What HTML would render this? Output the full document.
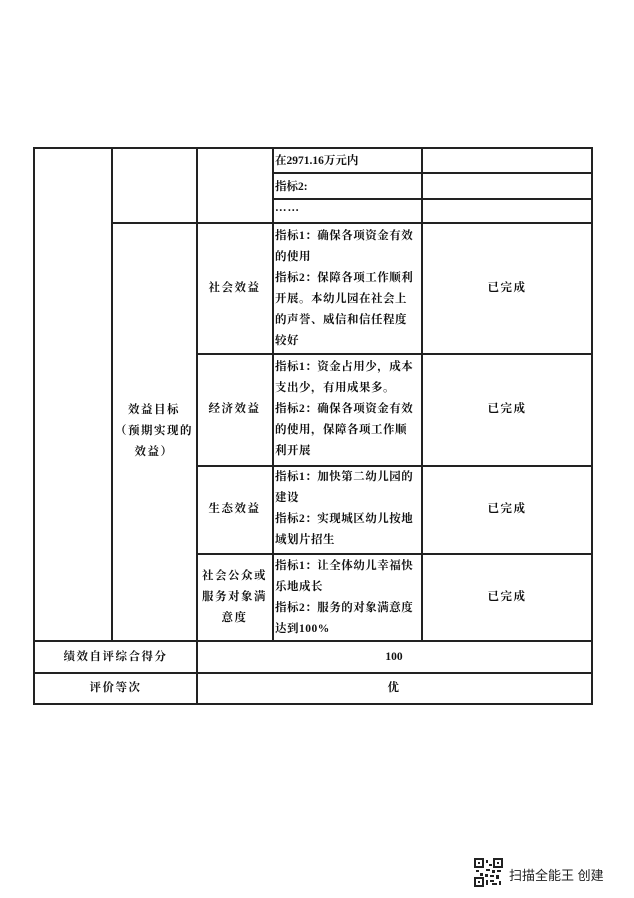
<!DOCTYPE html>
<html><head><meta charset="utf-8"><style>
body{margin:0;width:634px;height:898px;background:#fff;position:relative;overflow:hidden;font-family:"Liberation Serif","Noto Serif CJK SC","Noto Sans CJK SC",serif;color:#111}
.l{position:absolute;background:#222}
.t{position:absolute;font-size:11.5px;font-weight:bold;letter-spacing:1px}
.c{position:absolute;display:flex;align-items:center;justify-content:center;text-align:center;font-size:11.5px;font-weight:bold;line-height:21px;letter-spacing:1.5px}
.p{position:absolute;font-size:11.5px;font-weight:bold;line-height:21px;letter-spacing:0.5px;white-space:nowrap}
</style></head><body>
<div class="l" style="left:33px;top:147px;width:2px;height:557px"></div>
<div class="l" style="left:111px;top:147px;width:1.5px;height:493px"></div>
<div class="l" style="left:196px;top:147px;width:1.5px;height:557px"></div>
<div class="l" style="left:272px;top:147px;width:1.5px;height:493px"></div>
<div class="l" style="left:421px;top:147px;width:1.5px;height:493px"></div>
<div class="l" style="left:591px;top:147px;width:2px;height:557px"></div>
<div class="l" style="left:33px;top:147px;width:560px;height:2px"></div>
<div class="l" style="left:272px;top:172px;width:320px;height:1.5px"></div>
<div class="l" style="left:272px;top:198px;width:320px;height:1.5px"></div>
<div class="l" style="left:111px;top:222px;width:481px;height:1.5px"></div>
<div class="l" style="left:196px;top:353px;width:396px;height:1.5px"></div>
<div class="l" style="left:196px;top:465px;width:396px;height:1.5px"></div>
<div class="l" style="left:196px;top:553px;width:396px;height:1.5px"></div>
<div class="l" style="left:33px;top:640px;width:560px;height:2px"></div>
<div class="l" style="left:33px;top:672px;width:560px;height:1.5px"></div>
<div class="l" style="left:33px;top:703px;width:560px;height:2px"></div>

<div class="t" style="left:275px;top:152px;letter-spacing:0">在2971.16万元内</div>
<div class="t" style="left:275px;top:178px;letter-spacing:0">指标2:</div>
<div class="t" style="left:275px;top:202px">……</div>

<div class="c" style="left:112px;top:223px;width:84px;height:417px">效益目标<br>（预期实现的<br>效益）</div>
<div class="c" style="left:197px;top:223px;width:75px;height:130px">社会效益</div>
<div class="c" style="left:197px;top:354px;width:75px;height:111px">经济效益</div>
<div class="c" style="left:197px;top:466px;width:75px;height:87px">生态效益</div>
<div class="c" style="left:197px;top:554px;width:75px;height:86px">社会公众或<br>服务对象满<br>意度</div>

<div class="p" style="left:275px;top:226px">指标1：确保各项资金有效<br>的使用<br>指标2：保障各项工作顺利<br>开展。本幼儿园在社会上<br>的声誉、威信和信任程度<br>较好</div>
<div class="p" style="left:275px;top:357px">指标1：资金占用少，成本<br>支出少，有用成果多。<br>指标2：确保各项资金有效<br>的使用，保障各项工作顺<br>利开展</div>
<div class="p" style="left:275px;top:467px">指标1：加快第二幼儿园的<br>建设<br>指标2：实现城区幼儿按地<br>域划片招生</div>
<div class="p" style="left:275px;top:556px">指标1：让全体幼儿幸福快<br>乐地成长<br>指标2：服务的对象满意度<br>达到100%</div>

<div class="c" style="left:422px;top:223px;width:170px;height:130px">已完成</div>
<div class="c" style="left:422px;top:354px;width:170px;height:111px">已完成</div>
<div class="c" style="left:422px;top:466px;width:170px;height:87px">已完成</div>
<div class="c" style="left:422px;top:554px;width:170px;height:86px">已完成</div>

<div class="c" style="left:35px;top:642px;width:161px;height:30px">绩效自评综合得分</div>
<div class="c" style="left:197px;top:642px;width:394px;height:30px;letter-spacing:0">100</div>
<div class="c" style="left:35px;top:673px;width:161px;height:30px">评价等次</div>
<div class="c" style="left:197px;top:673px;width:394px;height:30px">优</div>

<svg style="position:absolute;left:474px;top:858px" width="29" height="29" viewBox="0 0 29 29">
<rect width="29" height="29" fill="#fff"/>
<rect x="1" y="1" width="8" height="8" fill="none" stroke="#222" stroke-width="2"/><rect x="4" y="4" width="2" height="2" fill="#222"/>
<rect x="20" y="1" width="8" height="8" fill="none" stroke="#222" stroke-width="2"/><rect x="23" y="4" width="2" height="2" fill="#222"/>
<rect x="1" y="20" width="8" height="8" fill="none" stroke="#222" stroke-width="2"/><rect x="4" y="23" width="2" height="2" fill="#222"/>
<path d="M12 2h2v3h-2zM15 6h3v2h-3zM12 11h4v2h-4zM18 12h3v3h-3zM23 12h4v2h-4zM11 16h3v3h-3zM16 17h4v2h-4zM22 17h3v4h-3zM12 22h2v5h-2zM16 22h4v2h-4zM18 25h5v2h-5zM25 23h2v4h-2zM2 12h3v2h-3zM6 15h3v3h-3z" fill="#222"/>
</svg>
<div style="position:absolute;left:509px;top:865px;font-family:'Liberation Sans','Noto Sans CJK SC',sans-serif;font-size:13px;color:#222">扫描全能王 创建</div>
</body></html>
